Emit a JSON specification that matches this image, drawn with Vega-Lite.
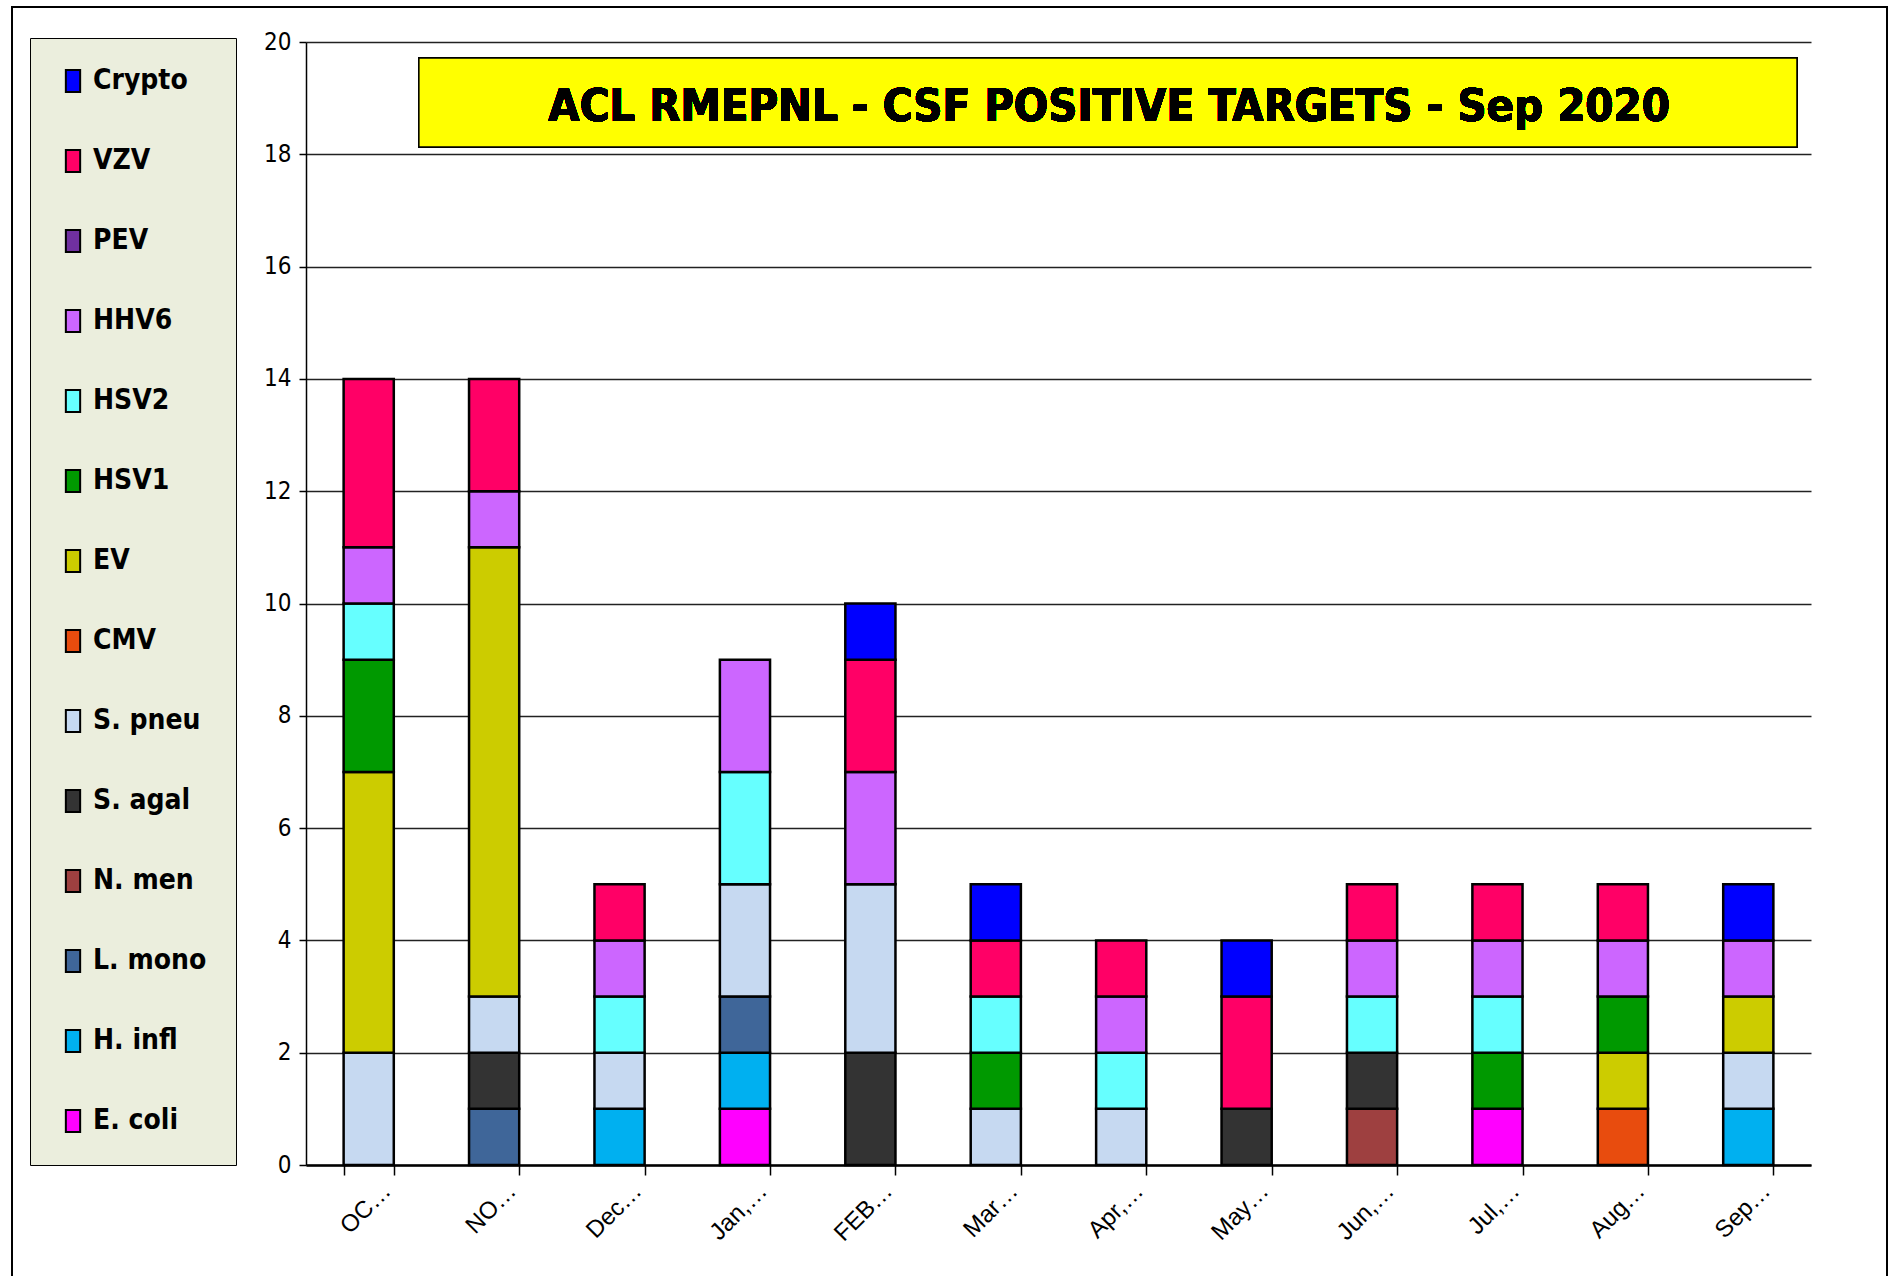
{
  "$schema": "https://vega.github.io/schema/vega-lite/v6.json",
  "autosize": {"type": "none"},
  "width": 1505,
  "height": 1123,
  "padding": {"left": 306, "top": 42, "right": 84, "bottom": 111},
  "background": "white",
  "config": {
    "font": "DejaVu Sans Condensed, Liberation Sans, sans-serif",
    "view": {"stroke": null}
  },
  "datasets": {
    "stackorder": [
      {"pathogen": "E. coli", "rank": 1},
      {"pathogen": "H. infl", "rank": 2},
      {"pathogen": "L. mono", "rank": 3},
      {"pathogen": "N. men", "rank": 4},
      {"pathogen": "S. agal", "rank": 5},
      {"pathogen": "S. pneu", "rank": 6},
      {"pathogen": "CMV", "rank": 7},
      {"pathogen": "EV", "rank": 8},
      {"pathogen": "HSV1", "rank": 9},
      {"pathogen": "HSV2", "rank": 10},
      {"pathogen": "HHV6", "rank": 11},
      {"pathogen": "PEV", "rank": 12},
      {"pathogen": "VZV", "rank": 13},
      {"pathogen": "Crypto", "rank": 14}
    ]
  },
  "data": {
    "values": [
      {"month": "OC…", "pathogen": "S. pneu", "count": 2},
      {"month": "OC…", "pathogen": "EV", "count": 5},
      {"month": "OC…", "pathogen": "HSV1", "count": 2},
      {"month": "OC…", "pathogen": "HSV2", "count": 1},
      {"month": "OC…", "pathogen": "HHV6", "count": 1},
      {"month": "OC…", "pathogen": "VZV", "count": 3},
      {"month": "NO…", "pathogen": "L. mono", "count": 1},
      {"month": "NO…", "pathogen": "S. agal", "count": 1},
      {"month": "NO…", "pathogen": "S. pneu", "count": 1},
      {"month": "NO…", "pathogen": "EV", "count": 8},
      {"month": "NO…", "pathogen": "HHV6", "count": 1},
      {"month": "NO…", "pathogen": "VZV", "count": 2},
      {"month": "Dec…", "pathogen": "H. infl", "count": 1},
      {"month": "Dec…", "pathogen": "S. pneu", "count": 1},
      {"month": "Dec…", "pathogen": "HSV2", "count": 1},
      {"month": "Dec…", "pathogen": "HHV6", "count": 1},
      {"month": "Dec…", "pathogen": "VZV", "count": 1},
      {"month": "Jan,…", "pathogen": "E. coli", "count": 1},
      {"month": "Jan,…", "pathogen": "H. infl", "count": 1},
      {"month": "Jan,…", "pathogen": "L. mono", "count": 1},
      {"month": "Jan,…", "pathogen": "S. pneu", "count": 2},
      {"month": "Jan,…", "pathogen": "HSV2", "count": 2},
      {"month": "Jan,…", "pathogen": "HHV6", "count": 2},
      {"month": "FEB…", "pathogen": "S. agal", "count": 2},
      {"month": "FEB…", "pathogen": "S. pneu", "count": 3},
      {"month": "FEB…", "pathogen": "HHV6", "count": 2},
      {"month": "FEB…", "pathogen": "VZV", "count": 2},
      {"month": "FEB…", "pathogen": "Crypto", "count": 1},
      {"month": "Mar…", "pathogen": "S. pneu", "count": 1},
      {"month": "Mar…", "pathogen": "HSV1", "count": 1},
      {"month": "Mar…", "pathogen": "HSV2", "count": 1},
      {"month": "Mar…", "pathogen": "VZV", "count": 1},
      {"month": "Mar…", "pathogen": "Crypto", "count": 1},
      {"month": "Apr,…", "pathogen": "S. pneu", "count": 1},
      {"month": "Apr,…", "pathogen": "HSV2", "count": 1},
      {"month": "Apr,…", "pathogen": "HHV6", "count": 1},
      {"month": "Apr,…", "pathogen": "VZV", "count": 1},
      {"month": "May…", "pathogen": "S. agal", "count": 1},
      {"month": "May…", "pathogen": "VZV", "count": 2},
      {"month": "May…", "pathogen": "Crypto", "count": 1},
      {"month": "Jun,…", "pathogen": "N. men", "count": 1},
      {"month": "Jun,…", "pathogen": "S. agal", "count": 1},
      {"month": "Jun,…", "pathogen": "HSV2", "count": 1},
      {"month": "Jun,…", "pathogen": "HHV6", "count": 1},
      {"month": "Jun,…", "pathogen": "VZV", "count": 1},
      {"month": "Jul,…", "pathogen": "E. coli", "count": 1},
      {"month": "Jul,…", "pathogen": "HSV1", "count": 1},
      {"month": "Jul,…", "pathogen": "HSV2", "count": 1},
      {"month": "Jul,…", "pathogen": "HHV6", "count": 1},
      {"month": "Jul,…", "pathogen": "VZV", "count": 1},
      {"month": "Aug…", "pathogen": "CMV", "count": 1},
      {"month": "Aug…", "pathogen": "EV", "count": 1},
      {"month": "Aug…", "pathogen": "HSV1", "count": 1},
      {"month": "Aug…", "pathogen": "HHV6", "count": 1},
      {"month": "Aug…", "pathogen": "VZV", "count": 1},
      {"month": "Sep…", "pathogen": "H. infl", "count": 1},
      {"month": "Sep…", "pathogen": "S. pneu", "count": 1},
      {"month": "Sep…", "pathogen": "EV", "count": 1},
      {"month": "Sep…", "pathogen": "HHV6", "count": 1},
      {"month": "Sep…", "pathogen": "Crypto", "count": 1}
    ]
  },
  "layer": [
    {
      "transform": [
        {"lookup": "pathogen", "from": {"data": {"name": "stackorder"}, "key": "pathogen", "fields": ["rank"]}}
      ],
      "mark": {"type": "bar", "stroke": "black", "strokeWidth": 2.5},
      "encoding": {
        "x": {
          "field": "month", "type": "nominal", "sort": null,
          "scale": {"paddingInner": 0.6, "paddingOuter": 0.3},
          "axis": {
            "title": null, "labelAngle": -45, "labelAlign": "right", "labelBaseline": "middle",
            "labelFont": "Liberation Sans, sans-serif", "labelFontSize": 24, "labelColor": "black",
            "labelPadding": 12, "labelOffset": 18,
            "tickBand": "extent", "tickSize": 10, "tickColor": "black", "tickWidth": 1.5,
            "domainColor": "black", "domainWidth": 2.5, "grid": false
          }
        },
        "y": {
          "field": "count", "type": "quantitative", "aggregate": "sum", "stack": "zero",
          "scale": {"domain": [0, 20], "nice": false},
          "axis": {
            "title": null, "values": [0, 2, 4, 6, 8, 10, 12, 14, 16, 18, 20], "format": "d",
            "labelFontSize": 24, "labelColor": "black", "labelPadding": 8,
            "tickSize": 7, "tickColor": "black", "tickWidth": 1.5,
            "domainColor": "black", "domainWidth": 1.5,
            "grid": true, "gridColor": "#222222", "gridWidth": 1.5
          }
        },
        "order": {"field": "rank", "type": "quantitative", "aggregate": "min"},
        "color": {
          "field": "pathogen", "type": "nominal",
          "scale": {
            "domain": ["E. coli", "H. infl", "L. mono", "N. men", "S. agal", "S. pneu", "CMV", "EV", "HSV1", "HSV2", "HHV6", "PEV", "VZV", "Crypto"],
            "range": ["#FF00FF", "#00B0F0", "#3F6699", "#9E4040", "#333333", "#C6D9F1", "#E84C0E", "#CCCC00", "#009900", "#66FFFF", "#CC66FF", "#7030A0", "#FF0066", "#0000FF"]
          },
          "legend": {
            "values": ["Crypto", "VZV", "PEV", "HHV6", "HSV2", "HSV1", "EV", "CMV", "S. pneu", "S. agal", "N. men", "L. mono", "H. infl", "E. coli"],
            "title": null, "orient": "none", "legendX": -276, "legendY": -4,
            "symbolType": "M-0.65,-1H0.65V1H-0.65Z", "symbolSize": 484, "symbolStrokeColor": "black", "symbolStrokeWidth": 2,
            "labelFont": "DejaVu Sans Condensed, Liberation Sans, sans-serif", "labelFontWeight": "bold", "labelFontSize": 28, "labelColor": "black",
            "labelOffset": 6, "rowPadding": 50, "padding": 29,
            "fillColor": "#EBEEDD", "strokeColor": "black"
          }
        }
      }
    },
    {
      "mark": {"type": "rect", "fill": "#FFFF00", "stroke": "black", "strokeWidth": 1.5},
      "encoding": {
        "x": {"datum": 0.075, "type": "quantitative", "scale": {"domain": [0, 1], "nice": false, "zero": false}, "axis": null},
        "x2": {"datum": 0.9907},
        "y": {"datum": 19.715, "type": "quantitative"},
        "y2": {"datum": 18.13}
      }
    },
    {
      "mark": {"type": "text", "font": "DejaVu Sans Condensed, Liberation Sans, sans-serif", "fontWeight": "bold", "fontSize": 45, "color": "black", "align": "center", "baseline": "middle"},
      "encoding": {
        "x": {"datum": 0.5336, "type": "quantitative", "scale": {"domain": [0, 1], "nice": false, "zero": false}, "axis": null},
        "y": {"datum": 18.84, "type": "quantitative"},
        "text": {"value": "ACL RMEPNL - CSF POSITIVE TARGETS - Sep 2020"}
      }
    },
    {
      "mark": {"type": "rect", "fill": null, "stroke": "black", "strokeWidth": 1.5},
      "encoding": {
        "x": {"datum": -0.1953, "type": "quantitative", "scale": {"domain": [0, 1], "nice": false, "zero": false}, "axis": null},
        "x2": {"datum": 1.0505},
        "y": {"datum": 20.623, "type": "quantitative"},
        "y2": {"datum": -2.3}
      }
    }
  ],
  "resolve": {"scale": {"x": "independent"}}
}
